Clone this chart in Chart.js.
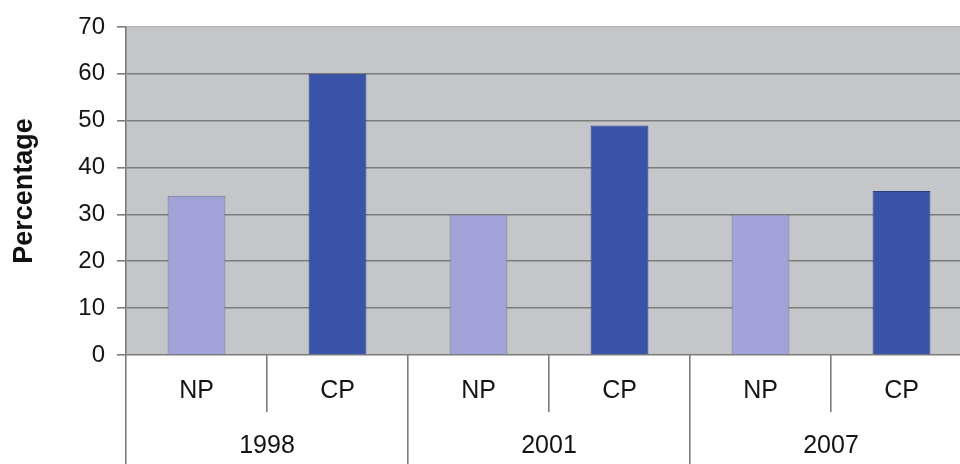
<!DOCTYPE html>
<html>
<head>
<meta charset="utf-8">
<script src="https://cdn.jsdelivr.net/npm/chart.js@4/dist/chart.umd.min.js"></script>
<style>
  html, body { margin: 0; padding: 0; background: #fff; overflow: hidden; }
  #wrap { width: 980px; height: 464px; position: relative; }
</style>
</head>
<body>
<div id="wrap"><canvas id="chart"></canvas></div>
<script>
// ---------- DATA ----------
const years    = ["1998", "2001", "2007"];
const groups   = ["NP", "CP"];
const npValues = [34, 30, 30];
const cpValues = [60, 49, 35];
const yTicks   = [0, 10, 20, 30, 40, 50, 60, 70];

// one slot per bar: NP, CP for each year
const slots = years.flatMap(() => groups);
const npData = years.flatMap((y, i) => [npValues[i], null]);
const cpData = years.flatMap((y, i) => [null, cpValues[i]]);

const FONT = "'Liberation Sans', Arial, sans-serif";
const LINE = "#7c7c7c";

// gray plot background
const plotBg = {
  id: "plotBg",
  beforeDraw(chart) {
    const { ctx, chartArea: a } = chart;
    ctx.save();
    ctx.fillStyle = "#c4c6c9";
    ctx.fillRect(a.left, a.top, a.right - a.left, a.bottom - a.top);
    ctx.restore();
  }
};

new Chart(document.getElementById("chart").getContext("2d"), {
  type: "bar",
  data: {
    labels: slots,
    datasets: [
      { label: "NP", data: npData, backgroundColor: "#a1a3d8", borderColor: "#74758c", borderWidth: 1, grouped: false },
      { label: "CP", data: cpData, backgroundColor: "#3953a8", borderColor: "#2c3f82", borderWidth: 1, grouped: false }
    ]
  },
  options: {
    responsive: true,
    maintainAspectRatio: false,
    animation: false,
    layout: { padding: { top: 27, right: 8, bottom: 0, left: 0 } },
    plugins: { legend: { display: false }, tooltip: { enabled: false } },
    datasets: { bar: { barPercentage: 0.41, categoryPercentage: 1 } },
    scales: {
      y: {
        min: 0, max: 70,
        afterBuildTicks: s => { s.ticks = yTicks.map(v => ({ value: v })); },
        afterFit: s => { s.width = 126; },
        grid: {
          // top edge is only a faint line
          color: c => (c.tick && c.tick.value === 70 ? "#b3b5b8" : LINE),
          tickColor: LINE,
          lineWidth: 1.6,
          tickLength: 9
        },
        border: { display: true, color: LINE, width: 1.6 },
        ticks: { color: "#141414", padding: 12, font: { family: FONT, size: 24 } },
        title: {
          display: true, text: "Percentage", color: "#111",
          padding: { top: 8, bottom: 0 },
          font: { family: FONT, size: 27, weight: "bold" }
        }
      },
      x: {
        type: "category",
        position: "bottom",
        weight: 0,
        afterFit: s => { s.height = 57; },
        grid: { offset: true, drawOnChartArea: false, color: LINE, lineWidth: 1.6, tickLength: 57 },
        border: { display: false },
        ticks: { color: "#141414", padding: -36, maxRotation: 0, font: { family: FONT, size: 25 } }
      },
      x2: {
        type: "category",
        position: "bottom",
        weight: 1,
        labels: years,
        afterFit: s => { s.height = 52; },
        grid: { offset: true, drawOnChartArea: false, color: LINE, lineWidth: 1.6, tickLength: 52 },
        border: { display: false },
        ticks: { color: "#141414", padding: -33, maxRotation: 0, font: { family: FONT, size: 25 } }
      }
    }
  },
  plugins: [plotBg]
});
</script>
</body>
</html>
